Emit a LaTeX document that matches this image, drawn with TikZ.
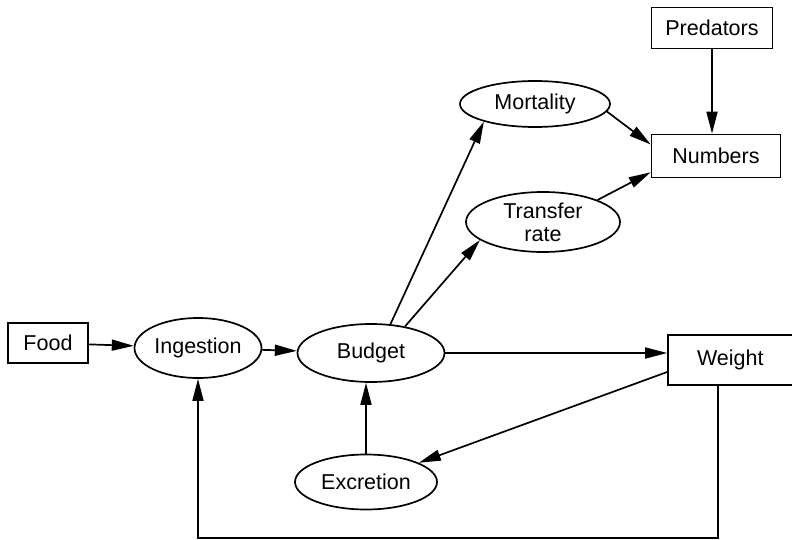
\documentclass[tikz,border=0pt]{standalone}
\usepackage{fontspec}
\setmainfont{Liberation Sans}
\usepackage{tikz}
\usetikzlibrary{arrows.meta,calc,shapes.geometric}

\begin{document}
\begin{tikzpicture}[x=1pt,y=-1pt,line width=1.7pt,
  box/.style={draw,rectangle,inner sep=0pt,font=\fontsize{21.5}{23}\selectfont},
  proc/.style={draw,ellipse,inner sep=0pt,align=center,font=\fontsize{21.5}{23}\selectfont},
  flow/.style={-{Triangle[length=22pt,width=11pt]}}]
\useasboundingbox (0,0) rectangle (792,540);
\node[box,minimum width=121pt,minimum height=41pt] (predators) at (712,28) {Predators};
\node[box,minimum width=129pt,minimum height=43pt] (numbers) at (716,156) {Numbers};
\node[proc,minimum width=150pt,minimum height=46pt] (mortality) at (535,104) {Mortality};
\node[proc,minimum width=154pt,minimum height=60pt,inner ysep=-4pt] (transfer) at (543,222) {Transfer\\rate};
\node[box,minimum width=80pt,minimum height=40pt] (food) at (48,343) {Food};
\node[proc,minimum width=127pt,minimum height=60pt] (ingest) at (198,348) {Ingestion};
\node[proc,minimum width=147pt,minimum height=58pt] (budget) at (371,353) {Budget};
\node[box,minimum width=132pt,minimum height=50pt,text width=124pt] (weight) at (734,360) {\hspace{25pt}Weight};
\node[proc,minimum width=142pt,minimum height=55pt] (excretion) at (366,482) {Excretion};
\coordinate (ground) at (0,538);

\draw[flow] (food) -- (ingest);
\draw[flow] (ingest) -- (budget);
\draw[flow] (budget.east) -- (budget.east -| weight.west);
\draw[flow] (budget.56) -- (mortality.199);
\draw[flow] (budget.38) -- (transfer.196);
\draw[flow] (mortality.354) -- (numbers.170);
\draw[flow] (transfer.22) -- (numbers.194);
\draw[flow] (predators.south) -- (predators.south |- numbers.north);
\draw[flow] ($(weight.west)+(0,12)$) -- (excretion.20);
\draw[flow] (excretion.north) -- (excretion.north |- budget.south);
\draw[flow] ($(weight.south)+(-16,0)$) |- (ground -| ingest.south) -- (ingest.south);
\end{tikzpicture}
\end{document}
